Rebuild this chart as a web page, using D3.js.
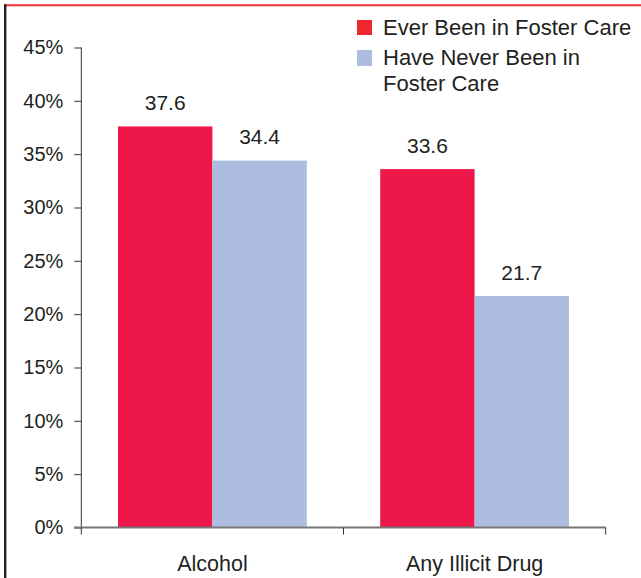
<!DOCTYPE html>
<html>
<head>
<meta charset="utf-8">
<script src="https://cdn.jsdelivr.net/npm/d3@7"></script>
<style>
  body { margin: 0; background: #fff; }
  svg text { font-family: "Liberation Sans", Arial, Helvetica, sans-serif; fill: #231f20; }
</style>
</head>
<body>
<div id="my_dataviz"></div>
<script>
// data
var categories = ["Alcohol", "Any Illicit Drug"];
var seriesNames = ["Ever Been in Foster Care", "Have Never Been in Foster Care"];
var everFoster = [37.6, 33.6];
var neverFoster = [34.4, 21.7];
var yTicks = [0, 5, 10, 15, 20, 25, 30, 35, 40, 45];
var colors = ["#ee174a", "#adbddf"];
var legendColors = ["#ee262f", "#adbddf"];

var width = 641, height = 578;

var svg = d3.select("#my_dataviz")
  .append("svg")
  .attr("width", width)
  .attr("height", height);

// frame: red line on top, dark line on the left
svg.append("line")
  .attr("x1", 4).attr("x2", width).attr("y1", 5.3).attr("y2", 5.3)
  .attr("stroke", "#ee2f3b").attr("stroke-width", 2);
svg.append("line")
  .attr("x1", 5.2).attr("x2", 5.2).attr("y1", 4.3).attr("y2", height)
  .attr("stroke", "#222").attr("stroke-width", 2.4);

var x0 = d3.scaleBand()
  .domain(categories)
  .range([81.3, 605.7])
  .padding(0);

// bars sit 14% in from each edge of their category band
var x1 = d3.scaleBand()
  .domain([0, 1])
  .range([x0.bandwidth() * 0.14, x0.bandwidth() * 0.86])
  .padding(0);

var y = d3.scaleLinear()
  .domain([0, 45])
  .range([527.5, 47.5]);

// bars
var rows = categories.map(function(c, i) {
  return {cat: c, values: [everFoster[i], neverFoster[i]]};
});

var groups = svg.selectAll("g.cat")
  .data(rows)
  .enter()
  .append("g")
  .attr("class", "cat")
  .attr("transform", function(d) { return "translate(" + x0(d.cat) + ",0)"; });

groups.selectAll("rect")
  .data(function(d) { return d.values.map(function(v, k) { return {k: k, v: v}; }); })
  .enter()
  .append("rect")
  .attr("x", function(d) { return x1(d.k); })
  .attr("width", x1.bandwidth())
  .attr("y", function(d) { return y(d.v); })
  .attr("height", function(d) { return y(0) - y(d.v); })
  .attr("fill", function(d) { return colors[d.k]; });

groups.selectAll("text.val")
  .data(function(d) { return d.values.map(function(v, k) { return {k: k, v: v}; }); })
  .enter()
  .append("text")
  .attr("class", "val")
  .attr("x", function(d) { return x1(d.k) + x1.bandwidth() / 2; })
  .attr("y", function(d) { return y(d.v) - 16.5; })
  .attr("text-anchor", "middle")
  .style("font-size", "21px")
  .text(function(d) { return d3.format(".1f")(d.v); });

// y axis
var yAxis = svg.append("g")
  .attr("transform", "translate(81.3,0)")
  .call(d3.axisLeft(y).tickValues(yTicks).tickSize(7).tickPadding(11)
    .tickFormat(function(d) { return d + "%"; }));
yAxis.select(".domain").attr("stroke", "#333").attr("d", "M0," + y(45) + "V" + y(0));
yAxis.selectAll(".tick line").attr("stroke", "#333");
yAxis.selectAll("text").style("font-size", "20px").attr("fill", "#231f20");

// x axis
var xAxis = svg.append("g")
  .attr("transform", "translate(0," + y(0) + ")")
  .call(d3.axisBottom(x0).tickSize(0).tickPadding(28));
xAxis.select(".domain").attr("stroke", "#777").attr("stroke-width", 2)
  .attr("d", "M74,0H605.7");
xAxis.selectAll("text").style("font-size", "21.5px").attr("fill", "#231f20");
// category boundary ticks
var bounds = categories.map(function(c) { return x0(c); }).concat([x0.range()[1]]);
xAxis.selectAll("line.bound")
  .data(bounds)
  .enter()
  .append("line")
  .attr("class", "bound")
  .attr("x1", function(d) { return d; })
  .attr("x2", function(d) { return d; })
  .attr("y1", 0).attr("y2", 7)
  .attr("stroke", "#333");

// legend
var legend = svg.append("g").attr("transform", "translate(357,20)");
legend.append("rect").attr("x", 0).attr("y", 0).attr("width", 15).attr("height", 15)
  .attr("fill", legendColors[0]);
legend.append("text").attr("x", 26).attr("y", 14.5).style("font-size", "22px")
  .text(seriesNames[0]);
legend.append("rect").attr("x", 0).attr("y", 30).attr("width", 15).attr("height", 16)
  .attr("fill", legendColors[1]);
var t2 = legend.append("text").attr("x", 26).attr("y", 45).style("font-size", "22px");
t2.append("tspan").attr("x", 26).text("Have Never Been in");
t2.append("tspan").attr("x", 26).attr("dy", 26).text("Foster Care");
</script>
</body>
</html>
